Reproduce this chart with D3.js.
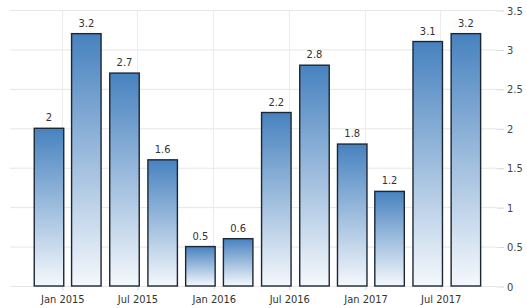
<!DOCTYPE html>
<html lang="en">
<head>
<meta charset="UTF-8">
<title>GDP growth</title>
<style>
  body { margin: 0; background: #fff; }
  text { font-family: "Liberation Sans Narrow", "DejaVu Sans Condensed", "Liberation Sans", sans-serif; }
</style>
</head>
<body>
<svg id="chart" width="527" height="308"></svg>
<script src="https://d3js.org/d3.v7.min.js"></script>
<script>
// quarterly values
var dates = ["2014-12-01", "2015-03-01", "2015-06-01", "2015-09-01", "2015-12-01", "2016-03-01",
             "2016-06-01", "2016-09-01", "2016-12-01", "2017-03-01", "2017-06-01", "2017-09-01"];
var values = [2, 3.2, 2.7, 1.6, 0.5, 0.6, 2.2, 2.8, 1.8, 1.2, 3.1, 3.2];
var xTicks = ["2015-01-01", "2015-07-01", "2016-01-01", "2016-07-01", "2017-01-01", "2017-07-01"];
var yTicks = [0, 0.5, 1, 1.5, 2, 2.5, 3, 3.5];

var parse = d3.timeParse("%Y-%m-%d");
var data = dates.map(function (d, i) { return { date: parse(d), value: values[i] }; });

var svg = d3.select("#chart"),
    plotL = 10, plotR = 497, plotT = 10, plotB = 286;

var x = d3.scaleTime()
    .domain([parse("2014-08-29"), parse("2017-11-15")])
    .range([plotL, plotR]);
var y = d3.scaleLinear().domain([0, 3.5]).range([plotB, plotT]);

var step = x(data[1].date) - x(data[0].date),
    bw = step * 0.79;

var grad = svg.append("defs").append("linearGradient")
    .attr("id", "barfill")
    .attr("x1", 0).attr("y1", 0).attr("x2", 0).attr("y2", 1);
grad.append("stop").attr("offset", "0%").attr("stop-color", "#4782bf");
grad.append("stop").attr("offset", "100%").attr("stop-color", "#f5f8fc");

// horizontal grid
svg.append("g").selectAll("line").data(yTicks).join("line")
    .attr("x1", plotL).attr("x2", plotR)
    .attr("y1", function (d) { return y(d) + 0.5; })
    .attr("y2", function (d) { return y(d) + 0.5; })
    .attr("stroke", "#e6e6e6");

// vertical grid
svg.append("g").selectAll("line").data(xTicks.map(parse)).join("line")
    .attr("x1", function (d) { return Math.round(x(d)) + 0.5; })
    .attr("x2", function (d) { return Math.round(x(d)) + 0.5; })
    .attr("y1", plotT).attr("y2", plotB)
    .attr("stroke", "#ececec");

// y axis on the right
var yAxis = svg.append("g")
    .attr("transform", "translate(" + plotR + ",0.5)")
    .call(d3.axisRight(y).tickValues(yTicks).tickSize(7).tickPadding(3).tickFormat(d3.format("")));
yAxis.select(".domain").remove();
yAxis.selectAll(".tick line").attr("stroke", "#d8d8d8");
yAxis.selectAll("text").attr("fill", "#444").style("font-size", "11px");

// x axis
var xAxis = svg.append("g")
    .attr("transform", "translate(0.5," + plotB + ")")
    .call(d3.axisBottom(x).tickValues(xTicks.map(parse)).tickSize(4).tickPadding(5)
        .tickFormat(d3.timeFormat("%b %Y")));
xAxis.select(".domain").remove();
xAxis.selectAll(".tick line").attr("stroke", "#d8d8d8");
xAxis.selectAll("text").attr("fill", "#333").style("font-size", "11px");

// bars
svg.append("g").selectAll("rect").data(data).join("rect")
    .attr("x", function (d) { return x(d.date) - bw / 2; })
    .attr("y", function (d) { return y(d.value); })
    .attr("width", bw)
    .attr("height", function (d) { return y(0) - y(d.value); })
    .attr("fill", "url(#barfill)")
    .attr("stroke", "#1c2735")
    .attr("stroke-width", 1.4);

// value labels
svg.append("g").selectAll("text").data(data).join("text")
    .attr("x", function (d) { return x(d.date); })
    .attr("y", function (d) { return y(d.value) - 7; })
    .attr("text-anchor", "middle")
    .attr("fill", "#333")
    .style("font-size", "11px")
    .text(function (d) { return d.value; });
</script>
</body>
</html>
